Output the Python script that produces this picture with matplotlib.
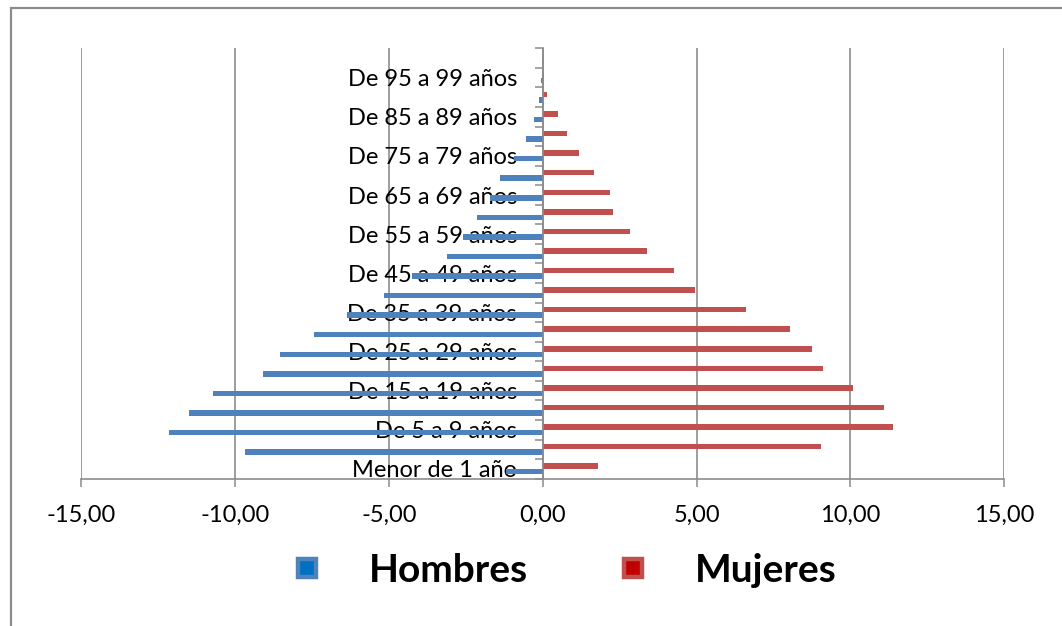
import matplotlib
matplotlib.use("Agg")
import matplotlib.pyplot as plt
from matplotlib.patches import Rectangle
from matplotlib.lines import Line2D
from matplotlib.ticker import FixedLocator, FuncFormatter
import numpy as np

# grupos de edad (de abajo hacia arriba)
grupos = ["Menor de 1 año", "De 1 a 4 años", "De 5 a 9 años", "De 10 a 14 años",
          "De 15 a 19 años", "De 20 a 24 años", "De 25 a 29 años", "De 30 a 34 años",
          "De 35 a 39 años", "De 40 a 44 años", "De 45 a 49 años", "De 50 a 54 años",
          "De 55 a 59 años", "De 60 a 64 años", "De 65 a 69 años", "De 70 a 74 años",
          "De 75 a 79 años", "De 80 a 84 años", "De 85 a 89 años", "De 90 a 94 años",
          "De 95 a 99 años", "De 100 y más años"]

hombres = [-1.2, -9.69, -12.16, -11.51, -10.72, -9.09, -8.53, -7.45, -6.38, -5.17, -4.26,
           -3.10, -2.58, -2.13, -1.70, -1.39, -0.92, -0.54, -0.28, -0.11, -0.05, -0.02]
mujeres = [1.78, 9.05, 11.37, 11.10, 10.09, 9.10, 8.75, 8.04, 6.59, 4.95, 4.28,
           3.38, 2.85, 2.29, 2.20, 1.68, 1.18, 0.79, 0.49, 0.15, 0.03, 0.01]

xticks = [-15, -10, -5, 0, 5, 10, 15]

azul = "#4F81BD"
rojo = "#C0504D"
gris = "#8C8C8C"

plt.rcParams["font.family"] = ["Lato", "DejaVu Sans"]

W, H = 1062, 626
fig = plt.figure(figsize=(W / 100, H / 100), dpi=100)
fig.patch.set_facecolor("white")

# borde exterior del área del gráfico
fig.add_artist(Rectangle((11 / W, -0.2), 1.2, 1.2 - 8 / H, transform=fig.transFigure,
                         fill=False, edgecolor=gris, linewidth=1.6))

left, right = 81.3 / W, 1004.3 / W
bottom, top = 1 - 478.7 / H, 1 - 48.3 / H
ax = fig.add_axes([left, bottom, right - left, top - bottom])

y = np.arange(len(grupos))
h = 0.28
ax.barh(y - h / 2, hombres, height=h, color=azul, label="Hombres")
ax.barh(y + h / 2, mujeres, height=h, color=rojo, label="Mujeres")

ax.set_xlim(-15, 15)
ax.set_ylim(-0.5, len(grupos) - 0.5)
ax.set_axisbelow(True)

ax.set_xticks(xticks)
ax.xaxis.set_major_formatter(FuncFormatter(lambda v, p: f"{v:.2f}".replace(".", ",")))
ax.grid(axis="x", color=gris, linewidth=1.2)
ax.tick_params(axis="x", direction="out", length=5.5, width=1.1, color=gris,
               labelsize=17, pad=13)

ax.yaxis.set_major_locator(FixedLocator(y[::2]))
ax.set_yticklabels(grupos[::2])
ax.yaxis.set_minor_locator(FixedLocator(np.arange(len(grupos) + 1) - 0.5))
ax.tick_params(axis="y", which="major", length=0, labelsize=17, pad=18.5)
ax.tick_params(axis="y", which="minor", direction="out", length=5.8, width=1.1, color=gris)

ax.spines["left"].set_position(("data", 0))
ax.spines["left"].set_color(gris)
ax.spines["left"].set_linewidth(1.2)
ax.spines["bottom"].set_color(gris)
ax.spines["bottom"].set_linewidth(1.2)
ax.spines["top"].set_visible(False)
ax.spines["right"].set_visible(False)

handles = [
    Line2D([], [], linestyle="none", marker="s", markersize=13, markerfacecolor="#0070C0",
           markeredgecolor=azul, markeredgewidth=3.2),
    Line2D([], [], linestyle="none", marker="s", markersize=13, markerfacecolor="#C00000",
           markeredgecolor=rojo, markeredgewidth=3.2),
]
fig.legend(handles, ["Hombres", "Mujeres"], loc="center", ncol=2, frameon=False,
           bbox_to_anchor=(564 / W, 1 - 570 / H),
           prop={"weight": "bold", "size": 28}, handlelength=0.8, handletextpad=1.2,
           columnspacing=2.3)

fig.savefig("out.png", dpi=100)
